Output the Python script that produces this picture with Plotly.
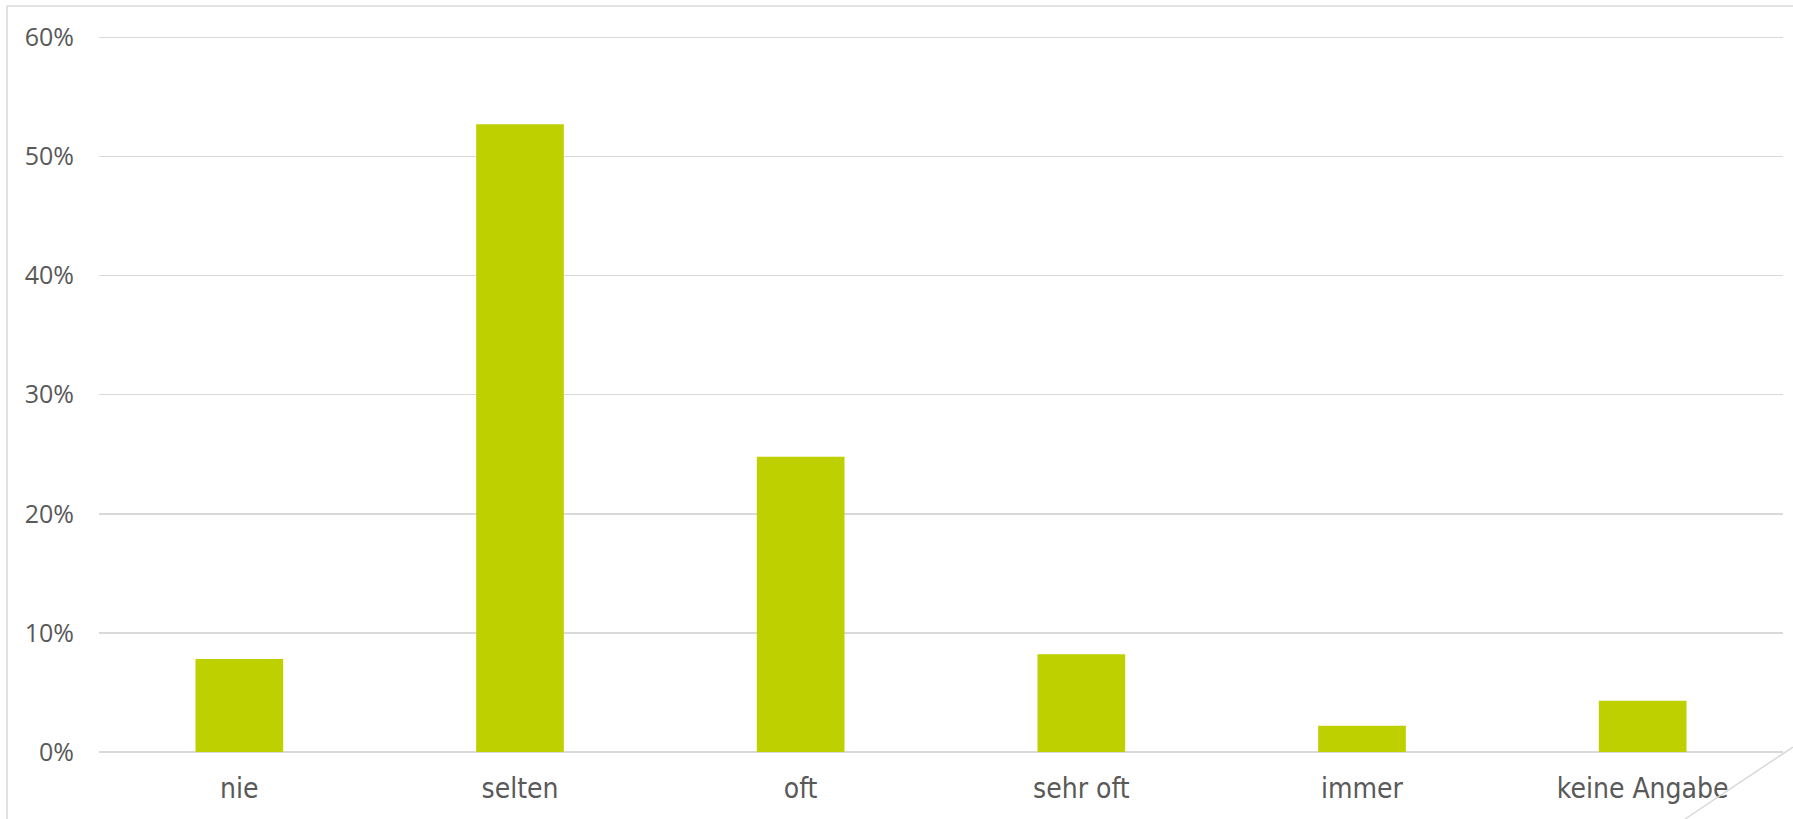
import plotly.graph_objects as go

categories = ["nie", "selten", "oft", "sehr oft", "immer", "keine Angabe"]
values = [0.078, 0.527, 0.248, 0.082, 0.022, 0.043]
tick_vals = [0, 0.1, 0.2, 0.3, 0.4, 0.5, 0.6]
tick_text = ["0%", "10%", "20%", "30%", "40%", "50%", "60%"]

W, H = 1793, 819
L, R, T, B = 99, 10, 36, 67
pw = W - L - R
ph = H - T - B
YMAX = 0.6012

def px(x):
    return (x - L) / pw

def py(y):
    return (H - B - y) / ph

fig = go.Figure(go.Bar(
    x=categories, y=values,
    marker=dict(color="#BED000", line=dict(width=0)),
    hoverinfo="skip",
))

grid = "#D9D9D9"
fig.update_layout(
    width=W, height=H,
    margin=dict(l=L, r=R, t=T, b=B),
    paper_bgcolor="white", plot_bgcolor="white",
    bargap=0.6876,
    showlegend=False,
    xaxis=dict(
        showgrid=False, showline=False, zeroline=False, ticks="",
        tickfont=dict(family="DejaVu Sans Condensed, DejaVu Sans", size=28, color="#595959"),
        ticklabelstandoff=17,
    ),
    yaxis=dict(
        range=[0, YMAX], tickvals=tick_vals, ticktext=tick_text,
        showgrid=True, gridcolor=grid, gridwidth=1.5,
        zeroline=True, zerolinecolor=grid, zerolinewidth=1.5,
        showline=False, ticks="",
        tickfont=dict(family="Open Sans", size=25, color="#595959"),
        ticklabelstandoff=24,
    ),
    shapes=[
        dict(type="line", xref="paper", yref="paper",
             x0=px(7), y0=py(H + 5), x1=px(7), y1=py(6),
             line=dict(color=grid, width=1.5)),
        dict(type="line", xref="paper", yref="paper",
             x0=px(7), y0=py(6), x1=px(W + 5), y1=py(6),
             line=dict(color=grid, width=1.5)),
        dict(type="line", xref="paper", yref="paper",
             x0=px(W), y0=py(747), x1=px(1685), y1=py(H),
             line=dict(color=grid, width=1.5)),
    ],
)

fig.write_html(
    "out.html",
    config={"displayModeBar": False, "staticPlot": True},
    post_script="document.body.style.margin='0';document.body.style.overflow='hidden';",
)
